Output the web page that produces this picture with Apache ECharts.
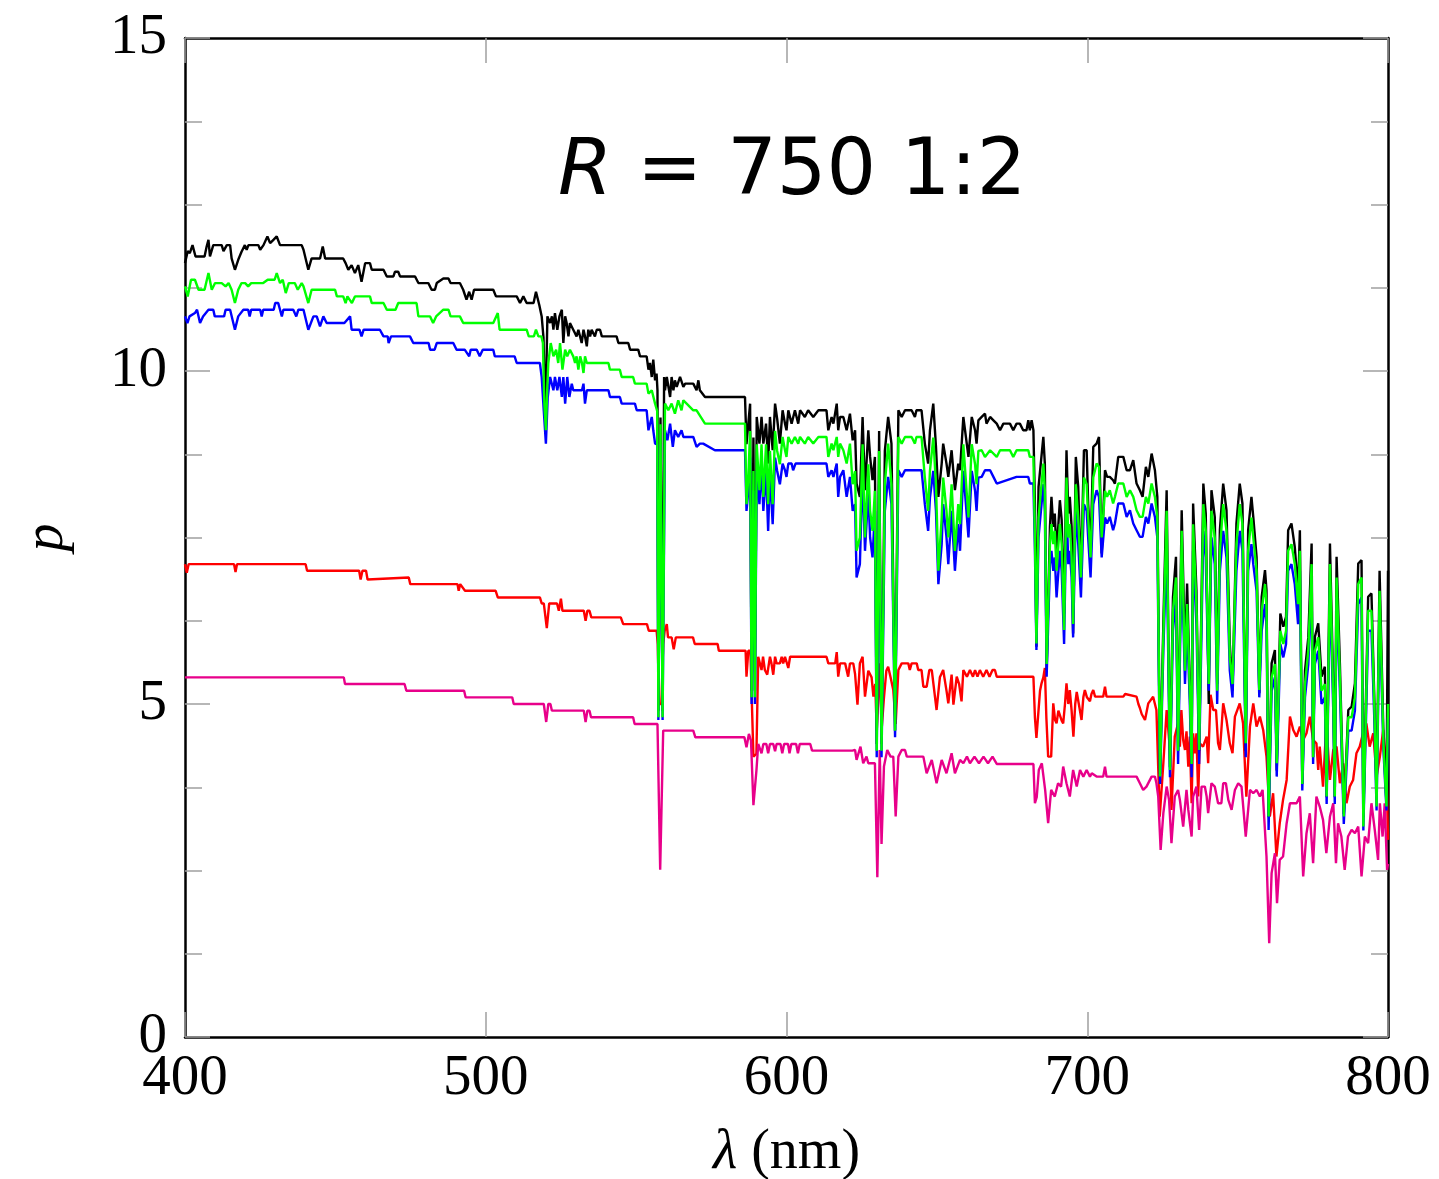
<!DOCTYPE html>
<html><head><meta charset="utf-8">
<script src="https://cdn.jsdelivr.net/npm/echarts@6/dist/echarts.min.js"></script>
<style>html,body{margin:0;padding:0;background:#fff}#c{width:1439px;height:1179px}</style>
</head><body><div id="c"></div>
<script>
// ---- tick labels / axis ranges ----
const xTicks = [400, 500, 600, 700, 800];
const yTicks = [0, 5, 10, 15];

// ---- series values: [wavelength nm, p] ----
const blackPts = [[400,11.62],[400.9,11.80],[401.6,11.77],[402.5,11.89],[403.5,11.72],[406.5,11.72],[407.2,11.87],[407.8,11.97],[408.3,11.72],[409.4,11.89],[412.2,11.89],[412.8,11.80],[413.9,11.89],[415.0,11.89],[415.5,11.69],[416.6,11.52],[417.7,11.67],[418.8,11.79],[419.9,11.89],[420.5,11.82],[421.1,11.89],[424.4,11.89],[425.0,11.82],[426.1,11.89],[427.4,12.02],[428.3,11.92],[429.4,11.97],[430.5,12.02],[431.6,11.89],[438.8,11.89],[439.4,11.82],[441.0,11.52],[442.1,11.69],[444.9,11.69],[445.8,11.87],[446.6,11.69],[452.6,11.69],[453.4,11.62],[454.3,11.52],[455.4,11.59],[456.5,11.47],[457.6,11.59],[458.7,11.34],[459.9,11.62],[461.5,11.62],[462.1,11.52],[466.0,11.52],[467.1,11.42],[469.3,11.42],[469.8,11.49],[470.9,11.49],[471.5,11.42],[476.5,11.42],[477.6,11.32],[480.9,11.32],[482.0,11.22],[483.1,11.22],[483.7,11.32],[485.9,11.39],[487.6,11.39],[488.3,11.32],[491.4,11.32],[492.5,11.22],[493.6,11.07],[494.5,11.19],[495.3,11.07],[496.1,11.22],[502.5,11.22],[503.4,11.12],[510.3,11.12],[511.4,11.02],[512.5,11.12],[513.6,11.02],[515.9,11.02],[516.7,11.19],[517.8,10.99],[518.6,10.82],[519.2,10.5],[519.8,9.2],[520.5,10.82],[521.4,10.72],[522.0,10.82],[522.5,10.62],[523.0,10.87],[523.8,10.62],[524.5,10.82],[525.3,10.92],[525.8,10.42],[526.4,10.82],[526.9,10.72],[527.5,10.52],[528.0,10.72],[529.1,10.62],[530.2,10.52],[530.8,10.62],[531.9,10.42],[532.5,10.62],[533.0,10.52],[533.6,10.37],[534.1,10.62],[534.7,10.52],[535.2,10.62],[536.3,10.52],[536.9,10.62],[538.0,10.62],[538.6,10.52],[543.5,10.52],[544.1,10.42],[547.4,10.42],[548.0,10.32],[550.7,10.32],[551.3,10.22],[553.5,10.22],[554.1,10.02],[554.6,10.12],[555.2,9.91],[555.7,10.17],[556.3,9.86],[556.8,9.96],[557.1,9.71],[557.4,4.9],[558.1,9.3],[558.8,4.9],[559.3,9.91],[559.6,9.71],[560.2,9.91],[561.3,9.61],[561.8,9.91],[562.4,9.71],[562.9,9.86],[563.5,9.76],[564.6,9.91],[565.7,9.76],[566.3,9.81],[569.0,9.81],[570.1,9.71],[570.7,9.86],[571.2,9.71],[572.9,9.61],[586.2,9.61],[586.7,8.9],[587.3,9.21],[587.9,9.51],[588.4,5.2],[589.0,9.0],[589.5,5.2],[590.1,9.31],[591.0,8.91],[591.7,9.31],[592.3,8.91],[593.2,9.21],[593.9,8.61],[594.5,9.31],[595.4,8.81],[596.2,9.51],[596.9,9.28],[597.8,8.91],[598.7,9.41],[599.5,9.21],[600.0,9.11],[600.6,9.41],[601.7,9.21],[602.8,9.41],[603.9,9.21],[604.5,9.41],[606.1,9.31],[607.2,9.41],[608.9,9.31],[610.6,9.41],[613.3,9.41],[613.9,9.11],[615.0,9.31],[615.6,9.21],[616.7,9.51],[617.2,9.11],[617.8,9.31],[618.9,9.31],[620.0,9.11],[621.1,9.36],[622.0,8.96],[622.8,9.11],[623.3,8.31],[624.4,8.11],[625.3,9.31],[626.1,8.21],[627.2,9.11],[627.8,8.71],[628.6,8.36],[629.4,8.71],[630.0,4.4],[630.8,9.1],[631.6,4.4],[632.7,8.8],[633.8,9.31],[634.9,8.91],[636.1,4.6],[637.2,9.41],[638.3,9.31],[639.4,9.41],[641.6,9.41],[642.7,9.31],[643.2,9.41],[644.9,9.41],[646.0,8.91],[647.1,8.61],[647.7,9.11],[648.8,9.51],[649.7,8.86],[650.5,8.11],[651.6,8.61],[652.1,8.91],[653.2,8.61],[653.8,8.41],[654.9,8.81],[656.0,8.21],[657.1,8.61],[657.7,8.51],[658.8,9.31],[659.3,9.31],[660.5,8.71],[661.6,9.31],[662.7,9.11],[663.2,8.91],[663.8,9.26],[664.9,9.31],[666.0,9.36],[666.5,9.21],[667.7,9.31],[668.8,9.26],[669.9,9.21],[671.0,9.11],[672.1,9.21],[674.3,9.21],[675.4,9.11],[676.5,9.21],[677.6,9.21],[678.7,9.11],[679.8,9.11],[680.4,9.26],[680.9,9.11],[681.5,9.26],[682.1,9.11],[682.6,8.0],[683.1,5.86],[683.8,8.26],[685.4,9.01],[685.9,8.61],[686.5,5.51],[687.6,7.66],[688.1,8.11],[688.7,7.66],[689.2,7.86],[689.8,7.26],[690.9,8.06],[691.5,7.76],[692.3,6.36],[693.1,8.81],[693.7,7.86],[694.2,8.11],[694.8,7.66],[695.3,6.06],[696.2,8.71],[697.0,8.26],[697.9,6.86],[698.9,8.81],[699.8,8.81],[700.3,8.01],[701.1,7.31],[702.0,8.86],[703.1,8.91],[703.9,9.01],[704.8,7.26],[705.9,8.51],[706.6,8.41],[707.5,8.41],[708.6,8.36],[709.2,8.31],[710.3,8.71],[712.0,8.71],[713.1,8.51],[714.2,8.51],[715.3,8.66],[716.4,8.31],[717.5,8.21],[718.4,8.11],[719.5,8.56],[720.3,8.41],[721.4,8.76],[722.5,8.51],[723.3,8.11],[724.2,3.95],[725.3,6.2],[726.4,8.21],[727.5,4.05],[728.5,6.6],[729.5,7.21],[730.2,4.3],[731.4,7.91],[732.5,5.71],[733.2,6.81],[734.1,5.3],[734.7,4.2],[735.2,8.01],[736.3,6.71],[737.2,4.3],[738.6,8.31],[739.4,7.86],[740.4,5.0],[741.3,8.21],[742.4,7.81],[743.2,5.3],[744.1,7.61],[745.2,8.31],[746.3,7.91],[747.4,5.9],[748.3,5.2],[749.6,7.71],[750.7,8.31],[751.6,8.01],[752.7,4.3],[753.5,7.61],[754.6,8.11],[755.2,7.81],[756.3,7.21],[757.2,5.16],[758.0,6.61],[759.1,7.01],[759.6,6.71],[760.3,3.3],[761.3,5.61],[762.4,5.81],[763.0,4.0],[764.2,6.36],[765.2,6.16],[766.1,6.31],[766.8,7.61],[767.9,7.71],[769.0,7.36],[770.1,6.71],[770.7,7.61],[771.5,3.8],[772.4,5.5],[773.5,6.0],[774.6,7.41],[775.1,4.2],[775.7,6.01],[776.8,6.21],[777.9,5.41],[779.0,5.56],[779.6,3.6],[780.7,7.41],[781.8,5.26],[782.3,3.6],[782.9,7.21],[784.0,5.61],[785.3,3.35],[786.8,4.91],[787.9,4.96],[789.0,5.31],[790.1,7.11],[791.2,7.16],[791.8,3.3],[793.4,6.61],[794.5,6.66],[795.5,5.0],[796.2,3.6],[797.2,7.0],[798.5,4.5],[799.5,3.5],[800,7.0]];

const greenPts = [[400,11.27],[400.9,11.12],[402.0,11.37],[403.3,11.37],[404.5,11.22],[406.5,11.22],[407.8,11.47],[408.9,11.22],[410.0,11.32],[412.2,11.32],[413.5,11.27],[414.5,11.32],[415.5,11.22],[416.6,11.02],[417.7,11.22],[418.8,11.32],[420.0,11.32],[421.0,11.27],[422.0,11.32],[426.0,11.32],[427.5,11.37],[429.8,11.37],[430.5,11.47],[431.6,11.32],[432.5,11.37],[433.5,11.17],[434.5,11.32],[436.5,11.32],[437.5,11.22],[438.8,11.32],[439.4,11.27],[441.0,11.02],[442.1,11.22],[449.9,11.22],[450.5,11.12],[452.6,11.12],[453.4,11.02],[454.0,11.12],[455.5,11.02],[456.5,11.12],[461.5,11.12],[462.1,11.02],[466.0,11.02],[467.1,10.92],[470.0,10.92],[470.9,11.02],[477.0,11.02],[477.6,10.82],[481.5,10.82],[482.5,10.72],[483.5,10.82],[485.9,10.92],[487.6,10.92],[488.3,10.82],[491.4,10.82],[492.5,10.72],[502.5,10.72],[504.0,10.87],[504.6,10.62],[513.6,10.62],[514.3,10.52],[516.0,10.52],[516.7,10.62],[517.5,10.52],[518.5,10.52],[519.0,10.42],[519.5,9.5],[520.0,9.11],[520.5,9.8],[520.8,10.12],[521.6,10.42],[522.5,10.22],[523.4,10.32],[524.1,10.12],[524.7,10.42],[525.5,10.02],[526.4,10.32],[527.1,10.22],[528.0,10.32],[529.1,10.22],[529.7,10.12],[530.2,10.22],[530.8,10.02],[531.4,10.22],[532.0,10.12],[532.5,9.97],[533.0,10.22],[533.6,10.12],[540.8,10.12],[541.3,10.02],[544.6,10.02],[545.2,9.91],[549.0,9.91],[549.6,9.81],[553.5,9.81],[554.1,9.66],[555.2,9.71],[556.3,9.51],[557.0,9.4],[557.4,4.8],[558.1,9.2],[558.8,4.8],[559.6,9.51],[560.7,9.41],[561.8,9.51],[562.9,9.36],[564.0,9.56],[565.1,9.41],[565.7,9.56],[566.8,9.51],[569.0,9.41],[570.1,9.41],[572.9,9.21],[586.2,9.21],[586.7,8.0],[587.3,8.4],[587.9,9.1],[588.4,5.1],[589.0,8.5],[589.5,5.1],[590.1,8.9],[591.0,8.21],[591.7,8.9],[592.3,8.11],[593.2,8.9],[593.9,8.0],[594.5,8.8],[595.4,8.0],[596.2,9.1],[596.9,8.8],[597.8,8.6],[598.7,9.01],[599.5,8.81],[600.0,8.71],[600.6,9.01],[601.7,8.91],[602.8,9.01],[603.9,8.91],[604.5,9.01],[606.1,8.91],[607.2,9.01],[608.9,8.91],[610.6,9.01],[613.3,9.01],[613.9,8.71],[615.0,8.91],[615.6,8.81],[616.7,9.01],[617.2,8.71],[617.8,8.91],[618.9,8.81],[620.0,8.61],[621.1,8.91],[622.0,8.3],[622.8,8.5],[623.3,7.3],[624.4,7.5],[625.3,8.9],[626.1,7.5],[627.2,8.6],[627.8,7.9],[628.6,7.6],[629.4,8.2],[630.0,4.3],[630.8,8.8],[631.6,4.3],[632.7,8.3],[633.8,8.91],[634.9,8.3],[636.1,4.6],[637.2,9.01],[638.3,8.91],[639.4,9.01],[641.6,9.01],[642.7,8.91],[643.2,9.01],[644.9,9.01],[646.0,8.4],[647.1,7.9],[647.7,8.5],[648.8,9.0],[649.7,8.3],[650.5,7.0],[651.6,7.8],[652.1,8.4],[653.2,7.9],[653.8,7.5],[654.9,8.3],[656.0,7.3],[657.1,8.0],[657.7,7.7],[658.8,8.9],[659.3,8.9],[660.5,7.8],[661.6,8.9],[662.7,8.6],[663.2,8.3],[663.8,8.8],[664.9,8.81],[666.0,8.71],[667.7,8.81],[669.9,8.71],[671.0,8.81],[674.3,8.81],[675.4,8.71],[676.5,8.81],[680.4,8.81],[680.9,8.71],[682.1,8.71],[682.6,7.5],[683.1,5.91],[683.8,7.8],[685.4,8.61],[685.9,8.2],[686.5,5.6],[687.6,7.4],[688.1,7.7],[688.7,7.4],[689.2,7.6],[689.8,7.0],[690.9,7.7],[691.5,7.4],[692.3,6.11],[693.1,8.4],[693.7,7.5],[694.2,7.7],[694.8,7.2],[695.3,6.2],[696.2,8.3],[697.0,7.8],[697.9,6.9],[698.9,8.4],[699.8,8.3],[700.3,7.8],[701.1,7.2],[702.0,8.4],[703.1,8.61],[703.9,8.56],[704.8,7.5],[705.9,8.2],[706.6,8.11],[707.5,8.21],[708.6,8.01],[709.2,8.11],[710.3,8.31],[712.0,8.31],[713.1,8.11],[714.2,8.21],[715.3,8.11],[716.4,7.91],[717.5,7.81],[718.4,7.81],[719.5,8.11],[720.3,8.01],[721.4,8.31],[722.5,8.11],[723.3,7.8],[724.2,3.91],[725.3,6.0],[726.4,7.9],[727.5,4.01],[728.5,6.4],[729.5,6.9],[730.2,4.3],[731.4,7.6],[732.5,5.5],[733.2,6.5],[734.1,5.2],[734.7,4.1],[735.2,7.7],[736.3,6.5],[737.2,4.31],[738.6,8.0],[739.4,7.6],[740.4,5.3],[741.3,7.9],[742.4,7.5],[743.2,5.2],[744.1,7.3],[745.2,8.0],[746.3,7.6],[747.4,5.7],[748.3,5.3],[749.6,7.4],[750.7,8.0],[751.6,7.7],[752.7,4.41],[753.5,7.3],[754.6,7.8],[755.2,7.5],[756.3,7.0],[757.2,5.21],[758.0,6.4],[759.1,6.8],[759.6,6.5],[760.3,3.31],[761.3,5.4],[762.4,5.6],[763.0,4.11],[764.2,6.1],[765.2,5.9],[766.1,6.1],[766.8,7.3],[767.9,7.4],[769.0,7.1],[770.1,6.5],[770.7,7.3],[771.5,3.8],[772.4,5.3],[773.5,5.8],[774.6,7.1],[775.1,4.2],[775.7,5.8],[776.8,6.0],[777.9,5.2],[779.0,5.3],[779.6,3.61],[780.7,7.1],[781.8,5.1],[782.3,3.61],[782.9,6.9],[784.0,5.4],[785.3,3.31],[786.8,4.8],[787.9,4.8],[789.0,5.1],[790.1,6.8],[791.2,6.9],[791.8,3.16],[793.4,6.4],[794.5,6.4],[795.5,4.9],[796.2,3.46],[797.2,6.7],[798.5,4.4],[799.5,3.46],[800,5.0]];

const bluePts = [[400,10.82],[400.8,10.72],[401.5,10.82],[403.3,10.87],[404.0,10.92],[405.0,10.72],[406.0,10.82],[407.8,10.92],[409.4,10.92],[409.9,10.82],[413.0,10.82],[413.5,10.92],[415.0,10.92],[416.6,10.62],[417.7,10.82],[419.4,10.92],[421.0,10.92],[421.5,10.82],[422.0,10.92],[425.0,10.92],[425.5,10.82],[426.0,10.92],[429.5,10.92],[430.0,11.02],[431.0,11.02],[431.6,10.92],[432.2,10.82],[432.7,10.92],[436.0,10.92],[437.0,10.82],[437.7,10.92],[439.4,10.92],[441.0,10.62],[442.7,10.82],[443.8,10.82],[444.9,10.67],[446.0,10.82],[447.1,10.72],[453.0,10.72],[454.9,10.82],[455.4,10.62],[458.0,10.62],[458.7,10.52],[459.4,10.62],[464.8,10.62],[466.0,10.52],[467.4,10.52],[467.7,10.42],[468.5,10.52],[474.8,10.52],[475.9,10.42],[481.0,10.42],[481.5,10.32],[483.0,10.32],[483.7,10.42],[489.2,10.42],[490.3,10.32],[493.0,10.32],[494.5,10.22],[495.0,10.32],[497.0,10.32],[498.0,10.22],[499.0,10.32],[502.5,10.32],[503.0,10.22],[509.6,10.22],[510.3,10.12],[518.0,10.12],[518.6,9.91],[519.3,9.4],[520.0,8.91],[520.6,9.6],[521.4,9.91],[522.5,9.71],[523.0,9.91],[523.8,9.71],[524.5,9.91],[525.3,9.61],[525.8,9.91],[526.4,9.51],[527.1,9.91],[527.8,9.61],[528.6,9.81],[529.1,9.71],[532.0,9.71],[532.5,9.81],[533.0,9.51],[533.6,9.71],[540.8,9.71],[541.3,9.61],[544.6,9.61],[545.2,9.51],[549.6,9.51],[550.2,9.41],[553.5,9.41],[554.1,9.11],[555.2,9.31],[555.7,9.11],[556.3,8.91],[557.0,8.9],[557.4,4.76],[558.1,8.9],[558.8,4.76],[559.6,9.11],[560.4,8.96],[561.3,9.21],[562.2,8.86],[562.9,9.11],[564.0,9.01],[565.1,9.11],[565.7,9.01],[569.0,9.01],[570.1,8.86],[571.2,8.91],[572.3,8.91],[576.2,8.81],[586.2,8.81],[586.7,7.9],[587.3,8.2],[587.9,8.7],[588.4,5.0],[589.0,8.2],[589.5,5.0],[590.1,8.5],[591.0,8.0],[591.7,8.6],[592.3,7.9],[593.2,8.5],[593.9,7.6],[594.5,8.5],[595.4,7.7],[596.2,8.7],[596.9,8.5],[597.8,8.3],[598.7,8.61],[599.5,8.51],[600.0,8.41],[600.6,8.61],[601.7,8.61],[602.2,8.51],[603.0,8.61],[613.3,8.61],[613.9,8.41],[615.0,8.51],[615.6,8.41],[616.7,8.61],[617.2,8.11],[617.8,8.41],[618.9,8.51],[620.0,8.11],[621.1,8.41],[622.0,7.9],[622.8,8.0],[623.3,6.9],[624.4,7.1],[625.3,8.5],[626.1,7.3],[627.2,8.2],[627.8,7.5],[628.6,7.2],[629.4,7.9],[630.0,4.2],[630.8,8.3],[631.6,4.2],[632.7,7.9],[633.8,8.41],[634.9,8.0],[636.1,4.5],[637.2,8.51],[638.3,8.41],[639.4,8.51],[644.9,8.51],[646.0,8.0],[647.1,7.6],[647.7,8.1],[648.8,8.5],[649.7,7.9],[650.5,6.8],[651.6,7.4],[652.1,8.0],[653.2,7.5],[653.8,7.1],[654.9,7.9],[656.0,7.0],[657.1,7.7],[657.7,7.3],[658.8,8.5],[659.3,8.5],[660.5,7.5],[661.6,8.5],[662.7,8.2],[663.2,7.9],[663.8,8.4],[664.9,8.41],[666.0,8.51],[667.7,8.51],[668.8,8.41],[669.9,8.31],[676.5,8.41],[680.4,8.41],[680.9,8.31],[682.1,8.31],[682.6,7.3],[683.1,5.81],[683.8,7.5],[685.4,8.3],[685.9,7.9],[686.5,5.41],[687.6,7.1],[688.1,7.3],[688.7,7.0],[689.2,7.2],[689.8,6.6],[690.9,7.3],[691.5,7.0],[692.3,5.9],[693.1,8.0],[693.7,7.1],[694.2,7.3],[694.8,6.9],[695.3,6.0],[696.2,7.9],[697.0,7.4],[697.9,6.6],[698.9,8.0],[699.8,7.9],[700.3,7.5],[701.1,6.9],[702.0,8.0],[703.1,8.21],[703.9,8.11],[704.8,7.2],[705.9,7.8],[706.6,7.71],[707.5,7.81],[708.6,7.61],[709.2,7.71],[710.3,8.01],[712.0,8.01],[713.1,7.81],[714.2,7.91],[715.3,7.71],[716.4,7.61],[717.5,7.51],[718.4,7.51],[719.5,7.81],[720.3,7.71],[721.4,8.01],[722.5,7.81],[723.3,7.5],[724.2,3.8],[725.3,5.8],[726.4,7.4],[727.5,3.9],[728.5,6.1],[729.5,6.6],[730.2,4.1],[731.4,7.2],[732.5,5.3],[733.2,6.2],[734.1,5.0],[734.7,3.9],[735.2,7.3],[736.3,6.2],[737.2,4.1],[738.6,7.6],[739.4,7.2],[740.4,5.2],[741.3,7.5],[742.4,7.1],[743.2,5.0],[744.1,7.0],[745.2,7.6],[746.3,7.2],[747.4,5.5],[748.3,5.1],[749.6,7.0],[750.7,7.6],[751.6,7.3],[752.7,4.2],[753.5,7.0],[754.6,7.4],[755.2,7.1],[756.3,6.7],[757.2,5.1],[758.0,6.1],[759.1,6.5],[759.6,6.2],[760.3,3.11],[761.3,5.2],[762.4,5.4],[763.0,3.91],[764.2,5.9],[765.2,5.7],[766.1,5.9],[766.8,7.0],[767.9,7.1],[769.0,6.8],[770.1,6.2],[770.7,7.0],[771.5,3.7],[772.4,5.1],[773.5,5.6],[774.6,6.8],[775.1,4.1],[775.7,5.6],[776.8,5.8],[777.9,5.0],[779.0,5.1],[779.6,3.5],[780.7,6.8],[781.8,4.9],[782.3,3.5],[782.9,6.6],[784.0,5.2],[785.3,3.2],[786.8,4.6],[787.9,4.6],[789.0,4.9],[790.1,6.5],[791.2,6.6],[791.8,3.1],[793.4,6.1],[794.5,6.1],[795.5,4.7],[796.2,3.4],[797.2,6.4],[798.5,4.3],[799.5,3.4],[800,4.8]];

const redPts = [[400,7.10],[400.6,6.97],[401.2,7.10],[416.3,7.10],[416.8,6.98],[417.3,7.10],[440.1,7.10],[440.6,7.00],[457.9,7.00],[458.4,6.87],[459.0,7.00],[460.2,7.00],[460.7,6.87],[461.3,6.90],[474.4,6.90],[474.9,6.80],[490.6,6.80],[491.0,6.70],[491.5,6.80],[492.1,6.80],[493.1,6.70],[503.3,6.70],[504.0,6.60],[518.0,6.60],[518.6,6.51],[519.3,6.51],[520.3,6.14],[521.1,6.51],[523.7,6.51],[524.3,6.40],[525.0,6.58],[525.5,6.40],[532.6,6.40],[533.2,6.25],[533.8,6.40],[534.5,6.40],[535.1,6.30],[544.9,6.30],[545.7,6.20],[553.6,6.20],[554.2,6.10],[556.8,6.10],[557.2,5.9],[557.6,5.0],[558.4,5.0],[559.0,5.9],[559.5,6.10],[560.2,6.20],[560.6,6.00],[561.8,6.00],[562.5,5.82],[563.2,6.00],[568.9,6.00],[569.5,5.90],[577.1,5.90],[577.5,5.80],[586.4,5.80],[586.7,5.41],[587.3,5.80],[588.0,5.80],[589.0,4.21],[590.0,4.25],[590.6,5.71],[591.7,5.51],[592.2,5.71],[592.8,5.51],[593.6,5.44],[594.5,5.71],[595.0,5.61],[595.6,5.44],[596.2,5.71],[596.7,5.61],[597.8,5.61],[598.4,5.71],[598.9,5.61],[599.5,5.71],[600.6,5.54],[601.2,5.71],[613.3,5.71],[613.9,5.61],[616.2,5.61],[616.7,5.78],[617.2,5.41],[617.8,5.61],[619.5,5.61],[620.5,5.41],[621.1,5.61],[622.2,5.61],[622.8,5.45],[623.6,4.99],[624.4,5.61],[625.3,5.71],[626.1,5.11],[627.2,5.5],[628.3,5.4],[628.9,5.11],[629.5,5.3],[630.0,4.6],[631.1,5.61],[631.6,4.6],[632.4,5.09],[633.2,5.5],[633.8,5.56],[634.6,5.4],[635.5,5.21],[636.3,4.7],[637.2,5.51],[637.7,5.51],[638.3,5.61],[640.5,5.61],[641.0,5.51],[641.6,5.61],[643.3,5.61],[643.8,5.51],[644.9,5.51],[645.5,5.26],[646.6,5.26],[647.5,5.51],[648.3,5.51],[649.9,4.91],[651.0,5.4],[652.1,5.51],[653.2,5.2],[653.8,5.01],[654.9,5.44],[655.5,4.99],[656.6,5.41],[657.4,5.3],[658.2,5.04],[658.8,5.51],[660.0,5.41],[661.0,5.51],[662.0,5.41],[662.7,5.51],[663.5,5.41],[664.3,5.51],[665.4,5.41],[666.5,5.51],[667.5,5.41],[668.5,5.51],[669.3,5.51],[669.9,5.41],[682.1,5.41],[682.6,4.8],[683.1,4.49],[683.7,4.49],[684.3,5.2],[684.8,5.31],[685.4,5.4],[685.9,5.54],[686.4,4.8],[687.0,4.21],[688.0,4.21],[688.7,5.01],[689.3,4.76],[689.8,4.71],[690.4,4.9],[690.9,4.91],[691.5,4.75],[692.0,4.71],[692.6,5.0],[693.1,5.31],[693.7,5.0],[694.2,5.21],[694.8,4.9],[695.4,4.51],[696.0,5.0],[696.5,5.18],[697.2,5.0],[698.1,4.76],[698.7,5.1],[699.2,5.21],[699.9,5.1],[700.9,5.04],[701.4,5.15],[702.0,5.21],[702.6,5.11],[705.3,5.11],[705.9,5.26],[706.4,5.11],[712.0,5.11],[712.6,5.15],[716.4,5.11],[717.0,5.0],[717.5,4.94],[718.1,4.85],[719.2,4.76],[720.3,5.01],[721.9,5.11],[723.0,4.91],[724.1,3.31],[725.3,4.11],[726.4,4.91],[727.5,4.31],[728.0,3.41],[729.1,4.51],[730.2,4.71],[730.8,4.36],[731.3,4.91],[731.9,4.46],[732.5,4.31],[733.0,4.59],[733.6,4.06],[734.1,4.51],[734.7,3.51],[735.2,4.56],[735.8,4.26],[736.3,4.56],[736.9,3.61],[737.4,4.41],[738.5,4.36],[739.7,4.51],[740.2,4.11],[741.0,5.14],[741.9,4.91],[742.8,4.91],[743.5,4.41],[744.1,4.31],[744.6,4.61],[745.2,5.01],[745.8,5.01],[746.3,4.76],[747.4,4.41],[748.3,4.26],[749.1,4.81],[749.6,4.81],[750.7,5.01],[751.8,4.71],[752.9,3.61],[754.1,4.66],[755.2,5.01],[756.3,4.66],[757.4,4.81],[758.5,4.61],[759.6,4.21],[760.7,3.31],[761.8,3.66],[762.9,2.71],[764.0,3.21],[765.1,3.56],[766.3,3.86],[767.4,4.81],[768.5,4.61],[769.6,4.51],[770.7,4.66],[771.8,4.46],[772.9,4.56],[774.0,4.81],[775.1,4.46],[776.2,4.41],[776.8,4.01],[777.3,4.36],[778.4,3.76],[779.5,4.71],[780.7,3.86],[781.8,4.31],[782.9,4.36],[784.0,3.81],[785.1,4.11],[786.2,3.51],[787.3,3.76],[788.4,3.86],[789.5,4.26],[790.6,4.36],[791.7,4.56],[792.8,4.71],[793.9,4.36],[795.1,4.56],[796.2,3.91],[797.3,4.21],[798.4,4.61],[799.5,4.06],[800,2.96]];

const magentaPts = [[400,5.40],[452.8,5.40],[453.2,5.30],[473.0,5.30],[473.6,5.20],[492.8,5.20],[493.3,5.10],[508.8,5.10],[509.3,5.00],[519.3,5.00],[520.1,4.73],[520.8,5.00],[521.5,5.00],[522.0,4.90],[532.6,4.90],[533.2,4.73],[533.8,4.90],[534.5,4.90],[535.0,4.80],[549.0,4.80],[549.5,4.70],[557.1,4.70],[558.0,2.51],[559.0,4.60],[569.0,4.60],[569.7,4.50],[586.0,4.50],[586.7,4.35],[587.5,4.55],[588.2,4.45],[589.0,3.48],[590.0,4.0],[590.6,4.40],[591.7,4.26],[592.3,4.40],[593.3,4.40],[593.9,4.26],[594.5,4.40],[595.6,4.40],[596.2,4.29],[596.7,4.40],[598.0,4.40],[598.6,4.26],[599.2,4.40],[600.5,4.40],[601.0,4.26],[601.6,4.40],[603.2,4.40],[603.8,4.26],[604.4,4.40],[607.9,4.40],[608.5,4.30],[621.9,4.30],[622.8,4.31],[623.3,4.16],[624.6,4.36],[625.5,4.11],[626.6,4.21],[627.2,4.11],[629.4,4.11],[630.2,2.4],[631.0,4.31],[631.6,2.9],[632.4,4.06],[633.5,4.31],[634.6,4.21],[635.5,4.21],[636.3,3.31],[637.2,4.21],[638.3,4.31],[639.4,4.31],[640.0,4.21],[645.5,4.21],[646.6,3.96],[648.3,4.16],[649.9,3.81],[651.6,4.16],[653.2,3.96],[654.9,4.26],[656.0,3.96],[657.7,4.16],[658.8,4.11],[660.0,4.21],[661.0,4.11],[662.5,4.21],[664.0,4.11],[665.5,4.21],[667.0,4.11],[668.5,4.21],[669.9,4.10],[682.1,4.10],[682.6,3.51],[683.2,3.6],[683.9,4.01],[684.9,4.11],[686.0,3.71],[687.0,3.21],[688.0,3.71],[689.2,3.61],[690.3,3.81],[691.3,3.76],[692.0,4.06],[693.1,3.81],[694.2,3.61],[695.3,4.01],[696.5,3.76],[697.6,4.01],[698.7,3.91],[699.8,4.01],[700.9,3.91],[701.5,3.96],[703.1,3.91],[705.3,3.91],[705.9,4.06],[706.4,3.91],[716.4,3.91],[717.5,3.81],[718.6,3.71],[719.7,3.76],[721.4,3.91],[722.5,3.91],[723.0,3.81],[723.6,3.61],[724.4,2.81],[725.3,3.36],[726.4,3.76],[727.2,3.56],[728.0,2.91],[729.1,3.61],[730.2,3.71],[730.8,3.56],[731.9,3.16],[733.0,3.71],[733.6,3.41],[734.7,3.01],[735.2,3.61],[736.3,3.76],[737.2,3.11],[738.0,3.76],[739.1,3.76],[739.7,3.61],[740.2,3.36],[741.3,3.81],[742.4,3.76],[743.5,3.51],[744.6,3.51],[745.2,3.81],[746.1,3.81],[746.9,3.56],[748.0,3.41],[749.1,3.71],[750.2,3.81],[751.3,3.76],[752.7,3.01],[754.1,3.71],[755.2,3.66],[756.3,3.71],[757.4,3.61],[758.3,3.71],[759.6,2.71],[760.5,1.41],[761.3,2.46],[762.4,2.76],[763.1,2.01],[764.0,2.66],[765.1,2.71],[766.3,3.21],[767.4,3.51],[768.5,3.51],[769.6,3.51],[770.7,3.61],[771.8,2.41],[772.9,3.06],[774.0,3.36],[775.1,2.61],[776.2,3.61],[777.3,3.46],[778.4,3.26],[779.5,2.76],[780.7,3.31],[781.8,3.51],[782.7,2.61],[783.4,3.21],[784.5,3.01],[785.6,2.51],[786.7,3.01],[787.9,3.11],[789.0,3.06],[790.1,3.16],[791.2,2.41],[792.3,3.01],[793.4,2.91],[794.5,3.51],[795.6,3.11],[796.7,2.66],[797.3,3.51],[798.2,3.01],[798.9,3.51],[799.7,2.51],[800,2.6]];

const seriesDefs = [
  { name: 'red', color: '#ff0000', data: redPts },
  { name: 'magenta', color: '#e8008a', data: magentaPts },
  { name: 'black', color: '#000000', data: blackPts },
  { name: 'blue', color: '#0000ff', data: bluePts },
  { name: 'green', color: '#00ff00', data: greenPts }
];

const chart = echarts.init(document.getElementById('c'), null, { renderer: 'canvas' });
const serif = 'Liberation Serif';
const tickColor = '#a0a0a0';
const frameLine = { show: true, onZero: false, lineStyle: { color: '#000', width: 2.5 } };
const tickStyle = { show: true, inside: true, length: 25, lineStyle: { color: tickColor, width: 1.5 } };
const minorStyle = { show: true, splitNumber: 4, length: 17, lineStyle: { color: tickColor, width: 1.5 } };

const option = {
  animation: false,
  backgroundColor: '#fff',
  title: {
    text: '{i|R} = 750 1:2',
    left: 553, top: 130,
    textStyle: {
      fontFamily: 'DejaVu Sans', fontSize: 78, color: '#000', fontWeight: 'normal',
      rich: { i: { fontFamily: 'DejaVu Sans', fontSize: 78, fontStyle: 'italic', color: '#000' } }
    }
  },
  grid: { left: 185, right: 51, top: 38, bottom: 142, containLabel: false, outerBoundsMode: 'none' },
  xAxis: [
    { type: 'value', min: xTicks[0], max: xTicks[xTicks.length - 1], interval: 100, position: 'bottom',
      axisLine: frameLine, axisTick: tickStyle,
      axisLabel: { show: true, margin: 14, fontFamily: serif, fontSize: 57, color: '#000' },
      splitLine: { show: false },
      name: '{i|λ} (nm)', nameLocation: 'middle', nameGap: 88,
      nameTextStyle: { fontFamily: serif, fontSize: 56, color: '#000', rich: { i: { fontFamily: serif, fontSize: 56, fontStyle: 'italic', color: '#000' } } }
    },
    { type: 'value', min: xTicks[0], max: xTicks[xTicks.length - 1], interval: 100, position: 'top',
      axisLine: frameLine, axisTick: tickStyle,
      axisLabel: { show: false }, splitLine: { show: false } }
  ],
  yAxis: [
    { type: 'value', min: yTicks[0], max: yTicks[yTicks.length - 1], interval: 5, position: 'left',
      axisLine: frameLine, axisTick: tickStyle, minorTick: minorStyle,
      axisLabel: { show: true, margin: 18, fontFamily: serif, fontSize: 57, color: '#000' },
      splitLine: { show: false },
      name: 'p', nameLocation: 'middle', nameGap: 110, nameRotate: 90,
      nameTextStyle: { fontFamily: serif, fontSize: 56, fontStyle: 'italic', color: '#000' }
    },
    { type: 'value', min: yTicks[0], max: yTicks[yTicks.length - 1], interval: 5, position: 'right',
      axisLine: frameLine, axisTick: tickStyle, minorTick: minorStyle,
      axisLabel: { show: false }, splitLine: { show: false } }
  ],
  series: seriesDefs.map((s, i) => ({
    name: s.name, type: 'line', xAxisIndex: 0, yAxisIndex: 0,
    data: s.data, showSymbol: false, symbol: 'none', z: 2 + i,
    lineStyle: { color: s.color, width: 2.4 }, clip: true
  }))
};
chart.setOption(option);
</script>
</body></html>
